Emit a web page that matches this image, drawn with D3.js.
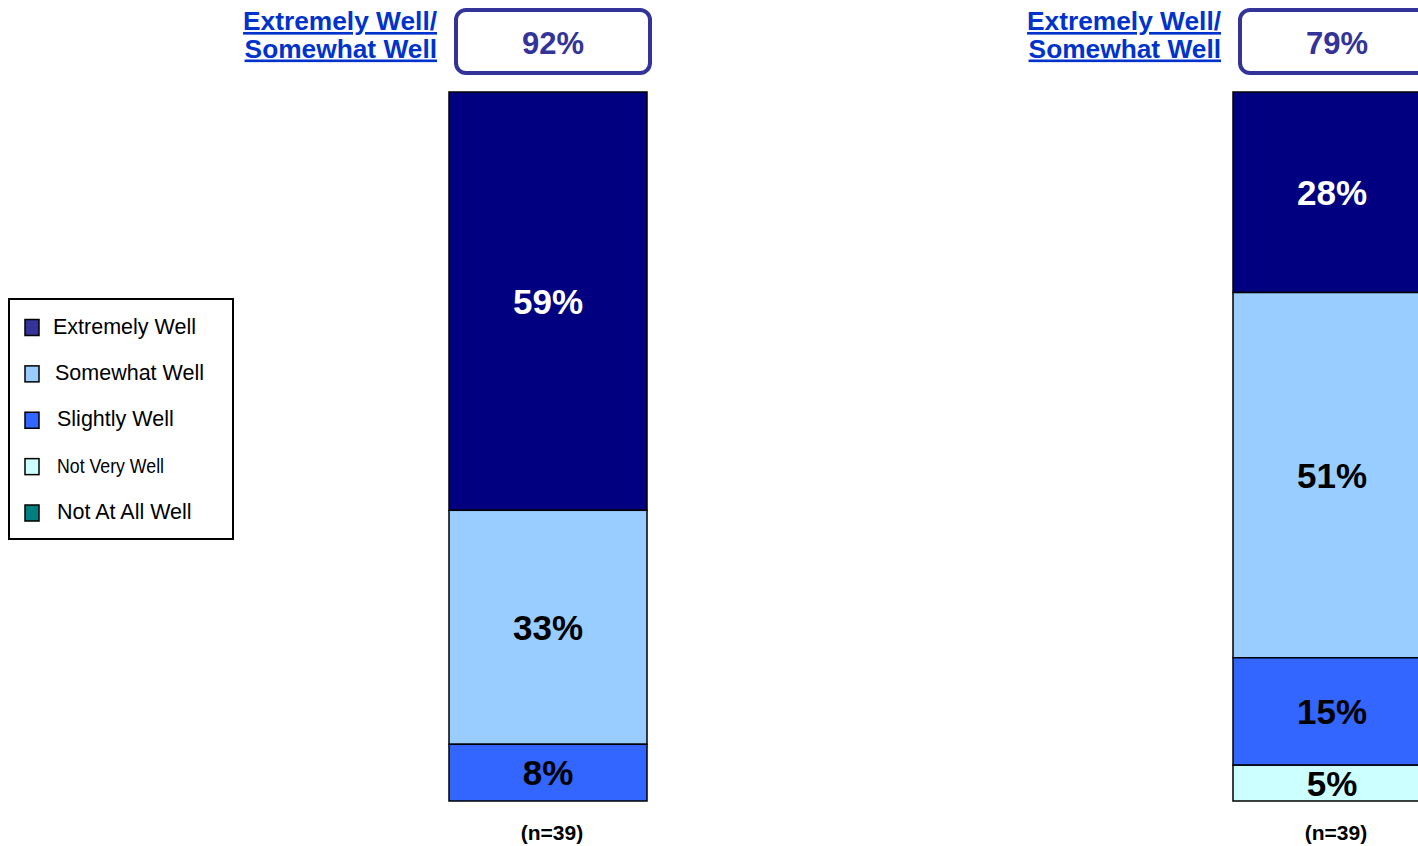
<!DOCTYPE html>
<html>
<head>
<meta charset="utf-8">
<script src="https://cdn.jsdelivr.net/npm/d3@7"></script>
<style>
  html, body { margin: 0; padding: 0; background: #fff; overflow: hidden; }
  svg { display: block; font-family: "Liberation Sans", Arial, sans-serif; }
</style>
</head>
<body>
<svg id="chart" width="1418" height="846"></svg>
<script>
// ---- data ----
const bars = ["Bar A", "Bar B"];
const series = ["Extremely Well", "Somewhat Well", "Slightly Well", "Not Very Well", "Not At All Well"];
const extremelyWell = [59, 28];
const somewhatWell  = [33, 51];
const slightlyWell  = [8, 15];
const notVeryWell   = [0, 5];
const notAtAllWell  = [0, 0];
const sampleLabels  = ["(n=39)", "(n=39)"];
const topTwoTitle   = ["Extremely Well/", "Somewhat Well"];

// ---- styles ----
const barColors    = ["#000080", "#99CCFF", "#3366FF", "#CCFFFF", "#008080"];
const legendColors = ["#333399", "#99CCFF", "#3366FF", "#CCFFFF", "#008080"];
const labelColors  = ["#FFFFFF", "#000000", "#000000", "#000000", "#FFFFFF"];

const rows = bars.map((b, i) => ({
  bar: b,
  "Extremely Well": extremelyWell[i],
  "Somewhat Well": somewhatWell[i],
  "Slightly Well": slightlyWell[i],
  "Not Very Well": notVeryWell[i],
  "Not At All Well": notAtAllWell[i]
}));

const svg = d3.select("#chart");

const barWidth = 198;
const x = d3.scalePoint().domain(bars).range([548, 1332]);
// stack runs from the top of the bar downward
const y = d3.scaleLinear().domain([0, 1]).range([92, 801]);

const stack = d3.stack().keys(series).offset(d3.stackOffsetExpand);
const stacked = stack(rows);

svg.append("defs").append("clipPath").attr("id", "plotclip")
  .append("rect").attr("x", 0).attr("y", 0).attr("width", 1418).attr("height", 801);

const g = svg.append("g");

const layers = g.selectAll("g.layer").data(stacked).join("g")
  .attr("class", "layer")
  .attr("fill", (d, i) => barColors[i]);

layers.selectAll("rect")
  .data(d => d.filter(s => s[1] - s[0] > 0))
  .join("rect")
  .attr("x", d => x(d.data.bar) - barWidth / 2)
  .attr("y", d => y(d[0]))
  .attr("width", barWidth)
  .attr("height", d => y(d[1]) - y(d[0]))
  .attr("stroke", "#000")
  .attr("stroke-width", 1.5);

// segment labels
const labelG = g.append("g").attr("clip-path", "url(#plotclip)");
stacked.forEach((layer, si) => {
  labelG.selectAll(null)
    .data(layer.filter(s => s.data[series[si]] > 0))
    .join("text")
    .attr("x", d => x(d.data.bar))
    .attr("y", d => (y(d[0]) + y(d[1])) / 2)
    .attr("dy", "0.36em")
    .attr("text-anchor", "middle")
    .attr("font-size", 35)
    .attr("font-weight", "bold")
    .attr("fill", labelColors[si])
    .text(d => d.data[series[si]] + "%");
});

// sample size labels
svg.selectAll("text.n").data(bars).join("text")
  .attr("class", "n")
  .attr("x", d => x(d) + 4)
  .attr("y", 840)
  .attr("text-anchor", "middle")
  .attr("font-size", 21)
  .attr("font-weight", "bold")
  .attr("fill", "#000")
  .text((d, i) => sampleLabels[i]);

// top-two box
bars.forEach((b, i) => {
  const cx = x(b);
  const total = extremelyWell[i] + somewhatWell[i];
  svg.append("rect")
    .attr("x", cx - 92).attr("y", 10)
    .attr("width", 194).attr("height", 63)
    .attr("rx", 10).attr("ry", 10)
    .attr("fill", "#fff")
    .attr("stroke", "#333399")
    .attr("stroke-width", 4);
  svg.append("text")
    .attr("x", cx + 5).attr("y", 54)
    .attr("text-anchor", "middle")
    .attr("font-size", 31)
    .attr("font-weight", "bold")
    .attr("fill", "#333399")
    .text(total + "%");
  topTwoTitle.forEach((t, k) => {
    svg.append("text")
      .attr("x", cx - 111).attr("y", 30 + k * 27.5)
      .attr("text-anchor", "end")
      .attr("font-size", 26.3)
      .attr("font-weight", "bold")
      .attr("fill", "#0033CC")
      .attr("text-decoration", "underline")
      .text(t);
  });
});

// legend
const legend = svg.append("g");
legend.append("rect")
  .attr("x", 9).attr("y", 299).attr("width", 224).attr("height", 240)
  .attr("fill", "#fff").attr("stroke", "#000").attr("stroke-width", 2);
const legendRowY = d3.scaleLinear().domain([0, series.length - 1]).range([327.5, 513]);
const legendTextX = [53, 55, 57, 57, 57];
const items = legend.selectAll("g.item").data(series).join("g").attr("class", "item")
  .attr("transform", (d, i) => `translate(0,${legendRowY(i)})`);
items.append("rect")
  .attr("x", 25).attr("y", -8).attr("width", 14).attr("height", 16)
  .attr("fill", (d, i) => legendColors[i])
  .attr("stroke", "#000").attr("stroke-width", 1.5);
items.append("text")
  .attr("x", (d, i) => legendTextX[i])
  .attr("y", 6)
  .attr("font-size", 21.5)
  .attr("fill", "#000")
  .each(function(d) {
    if (d === "Not Very Well") {
      d3.select(this).attr("font-size", 20)
        .attr("textLength", 107).attr("lengthAdjust", "spacingAndGlyphs");
    }
  })
  .text(d => d);
</script>
</body>
</html>
